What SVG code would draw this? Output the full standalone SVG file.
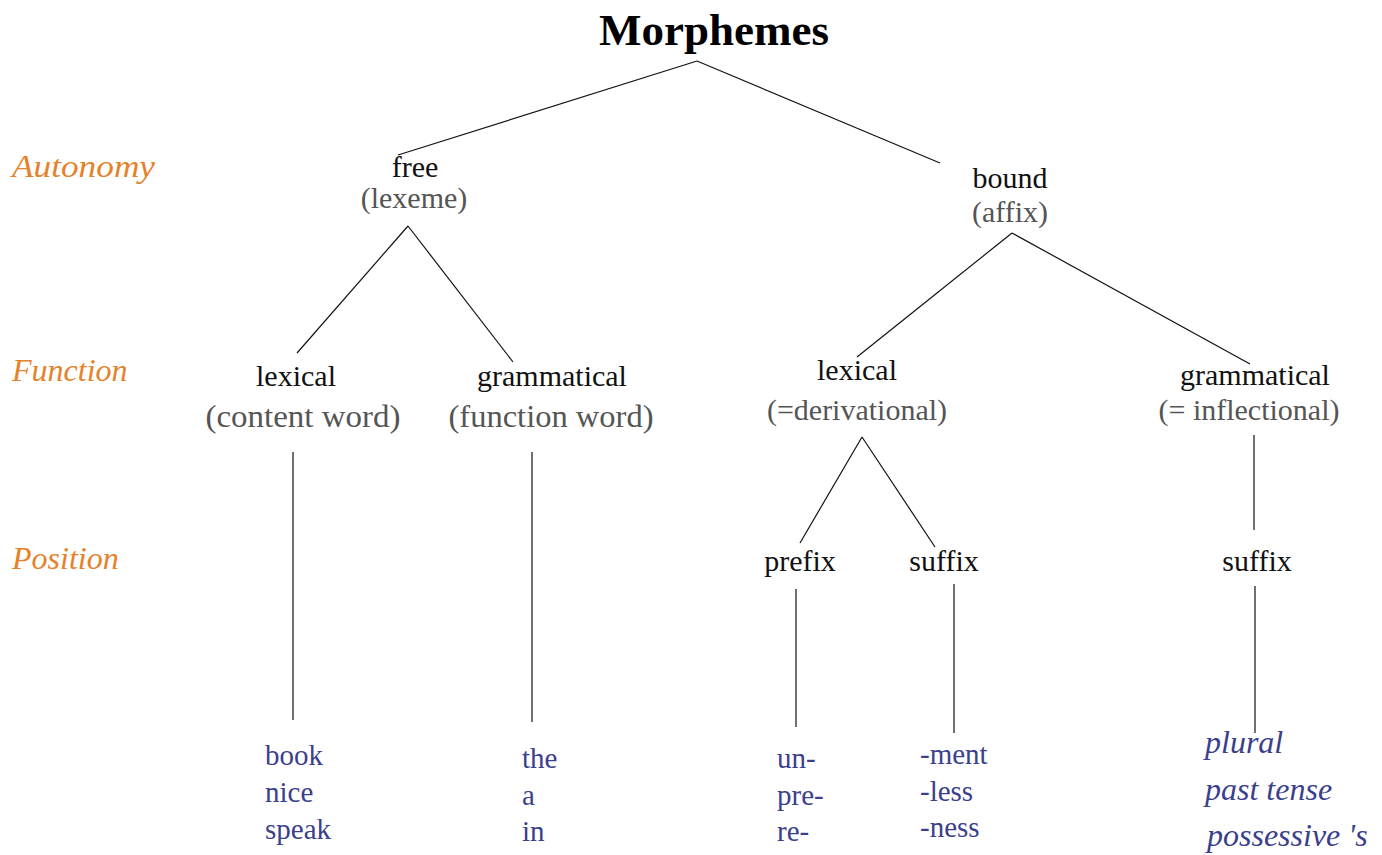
<svg xmlns="http://www.w3.org/2000/svg" width="1382" height="855" viewBox="0 0 1382 855">
<style>
.t,.n,.g,.lvl,.ex,.exi{font-family:"Liberation Serif","Times New Roman",Tinos,"DejaVu Serif",serif}
.t{font-size:45px;font-weight:bold;fill:#000;text-anchor:middle}
.n{font-size:30px;font-weight:normal;fill:#111;text-anchor:middle}
.g{font-size:30px;font-weight:normal;fill:#555;text-anchor:middle}
.gw{font-size:31px}
.lvl{font-size:32px;font-style:italic;fill:#e5822a}
.ex{font-size:29px;fill:#3b3f8c}
.exi{font-size:32px;font-style:italic;fill:#3b3f8c}
.c line{stroke:#111;stroke-width:1.2}
</style>
<rect width="1382" height="855" fill="#fff"/>
<g id="levels">
<text class="lvl" x="12" y="177" textLength="143" lengthAdjust="spacingAndGlyphs">Autonomy</text>
<text class="lvl" x="12" y="381">Function</text>
<text class="lvl" x="12" y="569">Position</text>
</g>
<g class="c" id="connectors">
<line x1="697" y1="61" x2="398" y2="155"/>
<line x1="697" y1="61" x2="940" y2="163"/>
<line x1="408" y1="226" x2="297" y2="353"/>
<line x1="408" y1="226" x2="513" y2="362"/>
<line x1="1012" y1="233" x2="857" y2="357"/>
<line x1="1012" y1="233" x2="1250" y2="364"/>
<line x1="293" y1="452" x2="293" y2="720"/>
<line x1="532" y1="452" x2="532" y2="722"/>
<line x1="862" y1="437" x2="800" y2="543"/>
<line x1="862" y1="437" x2="935" y2="547"/>
<line x1="1254" y1="435" x2="1254" y2="530"/>
<line x1="796" y1="589" x2="796" y2="727"/>
<line x1="954" y1="584" x2="954" y2="733"/>
<line x1="1255" y1="586" x2="1255" y2="733"/>
</g>
<g id="morphemes"><text class="t" x="714" y="45">Morphemes</text></g>
<g id="free"><text class="n" x="415" y="177">free</text><text class="g" x="414" y="208">(lexeme)</text></g>
<g id="bound"><text class="n" x="1010" y="188">bound</text><text class="g" x="1010" y="222">(affix)</text></g>
<g id="free-lexical"><text class="n" x="296" y="386">lexical</text><text class="g gw" x="303" y="427" textLength="195" lengthAdjust="spacingAndGlyphs">(content word)</text></g>
<g id="free-grammatical"><text class="n" x="552" y="386">grammatical</text><text class="g gw" x="551" y="427" textLength="205" lengthAdjust="spacingAndGlyphs">(function word)</text></g>
<g id="bound-lexical"><text class="n" x="857" y="380">lexical</text><text class="g" x="857" y="420">(=derivational)</text></g>
<g id="bound-grammatical"><text class="n" x="1255" y="385">grammatical</text><text class="g" x="1249" y="420">(= inflectional)</text></g>
<g id="prefix"><text class="n" x="800" y="571">prefix</text></g>
<g id="suffix-deriv"><text class="n" x="944" y="571">suffix</text></g>
<g id="suffix-infl"><text class="n" x="1257" y="571">suffix</text></g>
<g id="ex-content"><text class="ex" x="265" y="765">book</text><text class="ex" x="265" y="802">nice</text><text class="ex" x="265" y="839">speak</text></g>
<g id="ex-function"><text class="ex" x="522" y="768">the</text><text class="ex" x="522" y="805">a</text><text class="ex" x="522" y="841">in</text></g>
<g id="ex-prefix"><text class="ex" x="777" y="768">un-</text><text class="ex" x="777" y="805">pre-</text><text class="ex" x="777" y="841">re-</text></g>
<g id="ex-suffix"><text class="ex" x="920" y="764">-ment</text><text class="ex" x="920" y="801">-less</text><text class="ex" x="920" y="837">-ness</text></g>
<g id="ex-infl"><text class="exi" x="1205" y="753">plural</text><text class="exi" x="1205" y="800">past tense</text><text class="exi" x="1207" y="846">possessive 's</text></g>
</svg>
